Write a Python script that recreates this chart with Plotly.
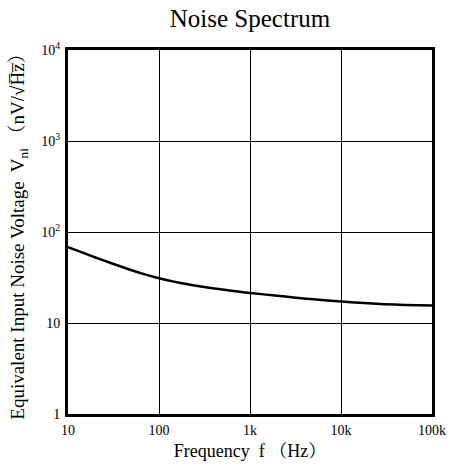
import plotly.graph_objects as go

freq_hz = [10, 15, 20, 30, 50, 70, 100, 150, 200, 300, 500, 700, 1000, 2000, 3000, 5000, 10000, 20000, 30000, 50000, 100000]
noise_nv = [68, 58.5, 52.5, 45.3, 38.0, 34.2, 31.0, 28.3, 26.8, 25.0, 23.3, 22.3, 21.4, 19.9, 19.1, 18.2, 17.2, 16.5, 16.1, 15.8, 15.6]

x_tickvals = [10, 100, 1000, 10000, 100000]
x_ticktext = ["10", "100", "1k", "10k", "100k"]
y_tickvals = [1, 10, 100, 1000, 10000]
y_ticktext = ["1", "10", "10<sup>2</sup>", "10<sup>3</sup>", "10<sup>4</sup>"]

fig = go.Figure()
fig.add_trace(go.Scatter(x=freq_hz, y=noise_nv, mode="lines",
                         line=dict(color="black", width=2.5, shape="spline", smoothing=0.5),
                         showlegend=False, hoverinfo="skip"))

font = "Liberation Serif, Times New Roman, Noto Serif CJK JP, Noto Sans CJK JP, serif"
fig.update_layout(
    width=450, height=472, autosize=False,
    margin=dict(l=68, r=18, t=50, b=58, autoexpand=False),
    paper_bgcolor="white", plot_bgcolor="white",
    font=dict(family=font, color="black", size=14),
    title=dict(text="Noise Spectrum", x=0.5, xref="paper", xanchor="center", y=0.962, yanchor="middle",
               font=dict(size=25, family=font)),
)
fig.update_xaxes(type="log", range=[1, 5], tickvals=x_tickvals, ticktext=x_ticktext,
                 showgrid=True, gridcolor="black", gridwidth=1, automargin=False,
                 showline=True, linecolor="black", linewidth=3, mirror=True,
                 ticks="", zeroline=False, ticklabelstandoff=1,
                 tickfont=dict(size=14),
                 title=dict(text="Frequency  f （Hz）", font=dict(size=18), standoff=8))
fig.update_yaxes(type="log", range=[0, 4], tickvals=y_tickvals, ticktext=y_ticktext,
                 showgrid=True, gridcolor="black", gridwidth=1, automargin=False,
                 showline=True, linecolor="black", linewidth=3, mirror=True,
                 ticks="", zeroline=False, ticklabelstandoff=2,
                 tickfont=dict(size=14),
                 title=dict(text="Equivalent Input Noise Voltage  V<sub>ni</sub> （nV/√H\u0305z\u0305）",
                            font=dict(size=19), standoff=12))

fig.write_html("out.html", config={"displayModeBar": False},
               post_script="document.body.style.margin='0';document.body.style.overflow='hidden';")
